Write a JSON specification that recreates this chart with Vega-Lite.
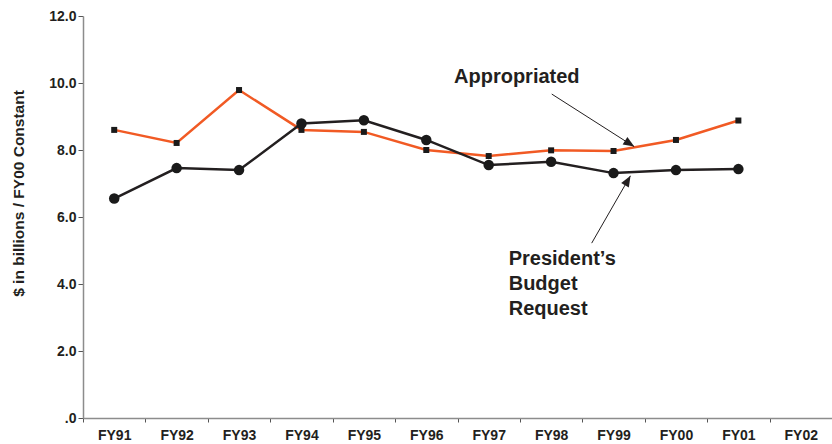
{
  "$schema": "https://vega.github.io/schema/vega-lite/v6.json",
  "width": 749,
  "height": 402,
  "autosize": {"type": "none"},
  "padding": {"left": 83, "top": 16, "right": 0, "bottom": 26},
  "background": "white",
  "config": {
    "view": {"stroke": null},
    "font": "Liberation Sans",
    "axis": {"labelFont": "Liberation Sans", "titleFont": "Liberation Sans"}
  },
  "datasets": {
    "series": [
      {"year": "FY91", "series": "Appropriated", "value": 8.6},
      {"year": "FY92", "series": "Appropriated", "value": 8.21},
      {"year": "FY93", "series": "Appropriated", "value": 9.79},
      {"year": "FY94", "series": "Appropriated", "value": 8.6},
      {"year": "FY95", "series": "Appropriated", "value": 8.54},
      {"year": "FY96", "series": "Appropriated", "value": 8.0},
      {"year": "FY97", "series": "Appropriated", "value": 7.82},
      {"year": "FY98", "series": "Appropriated", "value": 7.99},
      {"year": "FY99", "series": "Appropriated", "value": 7.97},
      {"year": "FY00", "series": "Appropriated", "value": 8.3},
      {"year": "FY01", "series": "Appropriated", "value": 8.88},
      {"year": "FY91", "series": "President's Budget Request", "value": 6.55},
      {"year": "FY92", "series": "President's Budget Request", "value": 7.46},
      {"year": "FY93", "series": "President's Budget Request", "value": 7.4},
      {"year": "FY94", "series": "President's Budget Request", "value": 8.79},
      {"year": "FY95", "series": "President's Budget Request", "value": 8.89},
      {"year": "FY96", "series": "President's Budget Request", "value": 8.3},
      {"year": "FY97", "series": "President's Budget Request", "value": 7.55},
      {"year": "FY98", "series": "President's Budget Request", "value": 7.65},
      {"year": "FY99", "series": "President's Budget Request", "value": 7.31},
      {"year": "FY00", "series": "President's Budget Request", "value": 7.4},
      {"year": "FY01", "series": "President's Budget Request", "value": 7.43}
    ],
    "labels": [
      {"x": 6.95, "y": 9.99, "text": "Appropriated", "group": "center"},
      {"x": 6.82, "y": 4.567, "text": "President’s", "group": "left"},
      {"x": 6.82, "y": 3.821, "text": "Budget", "group": "left"},
      {"x": 6.82, "y": 3.075, "text": "Request", "group": "left"}
    ],
    "arrows": [
      {"name": "Appropriated", "x": 7.51, "y": 9.67, "x2": 8.83, "y2": 8.1},
      {"name": "President", "x": 8.15, "y": 5.22, "x2": 8.77, "y2": 7.23}
    ],
    "heads": [
      {"name": "Appropriated", "x": 8.758, "y": 8.19},
      {"name": "President", "x": 8.728, "y": 7.09}
    ]
  },
  "layer": [
    {
      "data": {"name": "series"},
      "layer": [
        {
          "mark": {"type": "line", "strokeWidth": 2.5},
          "encoding": {
            "x": {
              "field": "year", "type": "ordinal",
              "sort": ["FY91","FY92","FY93","FY94","FY95","FY96","FY97","FY98","FY99","FY00","FY01","FY02"],
              "scale": {"type": "band", "domain": ["FY91","FY92","FY93","FY94","FY95","FY96","FY97","FY98","FY99","FY00","FY01","FY02"], "paddingInner": 0, "paddingOuter": 0},
              "axis": {
                "title": null, "labelAngle": 0, "tickBand": "extent",
                "labelFontSize": 14, "labelFontWeight": "bold", "labelColor": "#231f20",
                "labelPadding": 6, "tickSize": 4, "tickColor": "#555555", "tickWidth": 1,
                "domainColor": "#8c8c8c", "domainWidth": 1.5
              }
            },
            "y": {
              "field": "value", "type": "quantitative",
              "scale": {"domain": [0, 12], "nice": false},
              "axis": {
                "title": "$ in billions / FY00 Constant",
                "titleFontSize": 15.5, "titleFontWeight": "bold", "titleColor": "#231f20",
                "titleAngle": -90, "titleX": -65, "titleY": 177, "titleAlign": "center", "titleBaseline": "middle",
                "values": [0, 2, 4, 6, 8, 10, 12],
                "labelExpr": "datum.value == 0 ? '.0' : format(datum.value, '.1f')",
                "labelFontSize": 14, "labelFontWeight": "bold", "labelColor": "#231f20",
                "labelPadding": 2, "tickSize": 5, "tickColor": "#555555",
                "domainColor": "#8c8c8c", "domainWidth": 1.5, "grid": false
              }
            },
            "color": {
              "field": "series", "type": "nominal",
              "scale": {"domain": ["Appropriated", "President's Budget Request"], "range": ["#f15a24", "#231f20"]},
              "legend": null
            }
          }
        },
        {
          "mark": {"type": "point", "filled": true, "opacity": 1},
          "encoding": {
            "x": {"field": "year", "type": "ordinal", "sort": ["FY91","FY92","FY93","FY94","FY95","FY96","FY97","FY98","FY99","FY00","FY01","FY02"]},
            "y": {"field": "value", "type": "quantitative"},
            "shape": {
              "field": "series", "type": "nominal",
              "scale": {"domain": ["Appropriated", "President's Budget Request"], "range": ["square", "circle"]},
              "legend": null
            },
            "size": {
              "field": "series", "type": "nominal",
              "scale": {"domain": ["Appropriated", "President's Budget Request"], "range": [36, 110]},
              "legend": null
            },
            "color": {"value": "#1a1a1a"}
          }
        }
      ]
    },
    {
      "data": {"name": "arrows"},
      "mark": {"type": "rule", "color": "#231f20", "strokeWidth": 1},
      "encoding": {
        "x": {"field": "x", "type": "quantitative", "scale": {"domain": [0, 12], "nice": false}, "axis": null},
        "y": {"field": "y", "type": "quantitative"},
        "x2": {"field": "x2"},
        "y2": {"field": "y2"}
      }
    },
    {
      "data": {"name": "heads"},
      "transform": [{"filter": "datum.name == 'Appropriated'"}],
      "mark": {"type": "point", "filled": true, "opacity": 1, "color": "#231f20", "shape": "M0,-1L0.8,1L-0.8,1Z", "size": 121, "angle": 122.5},
      "encoding": {
        "x": {"field": "x", "type": "quantitative", "scale": {"domain": [0, 12], "nice": false}, "axis": null},
        "y": {"field": "y", "type": "quantitative"}
      }
    },
    {
      "data": {"name": "heads"},
      "transform": [{"filter": "datum.name == 'President'"}],
      "mark": {"type": "point", "filled": true, "opacity": 1, "color": "#231f20", "shape": "M0,-1L0.8,1L-0.8,1Z", "size": 121, "angle": 30},
      "encoding": {
        "x": {"field": "x", "type": "quantitative", "scale": {"domain": [0, 12], "nice": false}, "axis": null},
        "y": {"field": "y", "type": "quantitative"}
      }
    },
    {
      "data": {"name": "labels"},
      "transform": [{"filter": "datum.group == 'center'"}],
      "mark": {"type": "text", "fontSize": 20, "fontWeight": "bold", "color": "#231f20", "baseline": "alphabetic", "align": "center"},
      "encoding": {
        "x": {"field": "x", "type": "quantitative", "scale": {"domain": [0, 12], "nice": false}, "axis": null},
        "y": {"field": "y", "type": "quantitative"},
        "text": {"field": "text"}
      }
    },
    {
      "data": {"name": "labels"},
      "transform": [{"filter": "datum.group == 'left'"}],
      "mark": {"type": "text", "fontSize": 20, "fontWeight": "bold", "color": "#231f20", "baseline": "alphabetic", "align": "left"},
      "encoding": {
        "x": {"field": "x", "type": "quantitative", "scale": {"domain": [0, 12], "nice": false}, "axis": null},
        "y": {"field": "y", "type": "quantitative"},
        "text": {"field": "text"}
      }
    }
  ],
  "resolve": {"scale": {"x": "independent"}, "axis": {"x": "independent"}}
}
